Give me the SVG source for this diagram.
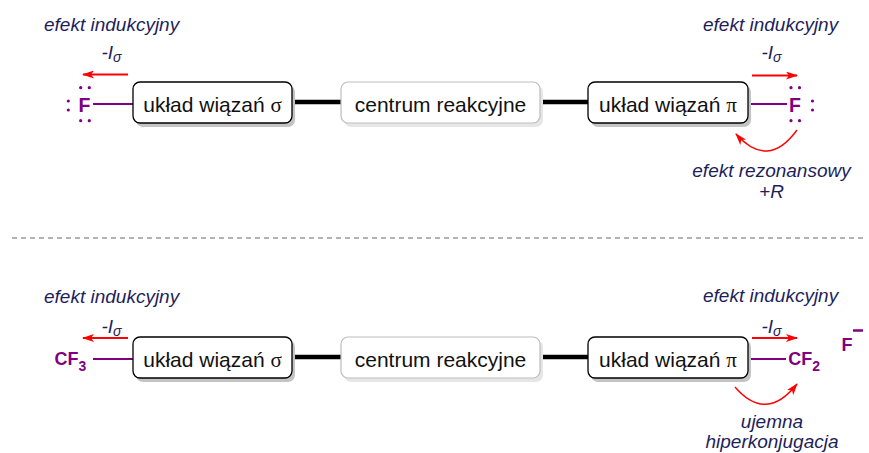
<svg xmlns="http://www.w3.org/2000/svg" width="869" height="453" viewBox="0 0 869 453">
<defs>
<marker id="ah" viewBox="0 0 12 8" refX="11" refY="4" markerWidth="12" markerHeight="8" markerUnits="userSpaceOnUse" orient="auto">
<path d="M0,0 L12,4 L0,8 L3,4 Z" fill="#ff0000"/>
</marker>
<style>
.box{fill:#ffffff;stroke:#000000;stroke-width:1.3}
.cbox{fill:#ffffff;stroke:#bdbdbd;stroke-width:1.2}
.sh{fill:#c4c4c4}
.csh{fill:#e6e6e6}
.bt{font-family:"Liberation Sans",Arial,sans-serif;font-size:21px;fill:#111111;text-anchor:middle}
.gr{font-family:"Liberation Serif","DejaVu Serif",serif;font-size:21px}
.lab{font-family:"Liberation Sans",Arial,sans-serif;font-size:19px;font-style:italic;fill:#1e1e5a}
.sub{font-size:14px}
.chem{font-family:"Liberation Sans",Arial,sans-serif;font-size:18px;font-weight:bold;fill:#800080}
.bond{stroke:#000000;stroke-width:4.5}
.pb{stroke:#800080;stroke-width:2}
.ra{stroke:#ff0000;stroke-width:2;fill:none;marker-end:url(#ah)}
.ca{stroke:#ff0000;stroke-width:1.4;fill:none;marker-end:url(#ah)}
.dot{fill:#800080}
</style>
</defs>
<line x1="12" y1="238" x2="866" y2="238" stroke="#9a9a9a" stroke-width="1.3" stroke-dasharray="5,4"/>
<g id="connectors">
<line class="bond" x1="292" y1="102" x2="341" y2="102"/>
<line class="bond" x1="540" y1="102" x2="588" y2="102"/>
<line class="bond" x1="292" y1="357" x2="341" y2="357"/>
<line class="bond" x1="540" y1="357" x2="588" y2="357"/>
<line class="pb" x1="93" y1="104" x2="133" y2="104"/>
<line class="pb" x1="748" y1="104" x2="787" y2="104"/>
<line class="pb" x1="93" y1="359" x2="133" y2="359"/>
<line class="pb" x1="748" y1="359" x2="786" y2="359"/>
<line class="ra" x1="128" y1="74.5" x2="83" y2="74.5"/>
<line class="ra" x1="752" y1="75.5" x2="797" y2="75.5"/>
<line class="ra" x1="128" y1="338" x2="83" y2="338"/>
<line class="ra" x1="752" y1="338" x2="797" y2="338"/>
<path class="ca" d="M797,130 Q768,170 736,134"/>
<path class="ca" d="M735,387 Q766,423 797,384"/>
</g>
<g id="top-sigma">
<rect class="sh" x="136" y="85" width="159" height="42" rx="7"/>
<rect class="box" x="133" y="82" width="159" height="41" rx="7"/>
<text class="bt" x="212.5" y="112">układ wiązań <tspan class="gr">σ</tspan></text>
</g>
<g id="top-center">
<rect class="csh" x="344" y="85" width="199" height="42" rx="7"/>
<rect class="cbox" x="341" y="82" width="199" height="41" rx="7"/>
<text class="bt" x="440.5" y="112">centrum reakcyjne</text>
</g>
<g id="top-pi">
<rect class="sh" x="591" y="85" width="160" height="42" rx="7"/>
<rect class="box" x="588" y="82" width="160" height="41" rx="7"/>
<text class="bt" x="668" y="112">układ wiązań <tspan class="gr">π</tspan></text>
</g>
<g id="bottom-sigma">
<rect class="sh" x="136" y="340" width="159" height="42" rx="7"/>
<rect class="box" x="133" y="337" width="159" height="41" rx="7"/>
<text class="bt" x="212.5" y="367">układ wiązań <tspan class="gr">σ</tspan></text>
</g>
<g id="bottom-center">
<rect class="csh" x="344" y="340" width="199" height="42" rx="7"/>
<rect class="cbox" x="341" y="337" width="199" height="41" rx="7"/>
<text class="bt" x="440.5" y="367">centrum reakcyjne</text>
</g>
<g id="bottom-pi">
<rect class="sh" x="591" y="340" width="160" height="42" rx="7"/>
<rect class="box" x="588" y="337" width="160" height="41" rx="7"/>
<text class="bt" x="668" y="367">układ wiązań <tspan class="gr">π</tspan></text>
</g>
<g id="F-left">
<text class="chem" x="78.5" y="111.7" style="font-size:19.5px">F</text>
<circle class="dot" cx="80.7" cy="87.7" r="1.6"/>
<circle class="dot" cx="89.3" cy="87.7" r="1.6"/>
<circle class="dot" cx="80.7" cy="120.7" r="1.6"/>
<circle class="dot" cx="89.3" cy="120.7" r="1.6"/>
<circle class="dot" cx="68.3" cy="101" r="1.6"/>
<circle class="dot" cx="68.3" cy="110" r="1.6"/>
</g>
<g id="F-right">
<text class="chem" x="789" y="111.7" style="font-size:19.5px">F</text>
<circle class="dot" cx="791" cy="87.7" r="1.6"/>
<circle class="dot" cx="799.5" cy="87.7" r="1.6"/>
<circle class="dot" cx="791" cy="120.7" r="1.6"/>
<circle class="dot" cx="799.5" cy="120.7" r="1.6"/>
<circle class="dot" cx="812.5" cy="101" r="1.6"/>
<circle class="dot" cx="812.5" cy="110" r="1.6"/>
</g>
<g id="CF3">
<text class="chem" x="54.5" y="365">CF<tspan class="sub" dy="5.7">3</tspan></text>
</g>
<g id="CF2">
<text class="chem" x="788.3" y="365">CF<tspan class="sub" dy="6">2</tspan></text>
</g>
<g id="F-anion">
<text class="chem" x="841.5" y="350.7">F</text>
<line x1="853" y1="330.5" x2="863" y2="330.5" stroke="#800080" stroke-width="2.5"/>
</g>
<g id="labels">
<text class="lab" x="44" y="31">efekt indukcyjny</text>
<text class="lab" x="101.5" y="58.5">-I<tspan class="sub" dy="3.2">σ</tspan></text>
<text class="lab" x="703" y="31">efekt indukcyjny</text>
<text class="lab" x="761.5" y="58.5">-I<tspan class="sub" dy="3.2">σ</tspan></text>
<text class="lab" x="771.5" y="177" text-anchor="middle">efekt rezonansowy</text>
<text class="lab" x="771.5" y="198" text-anchor="middle">+R</text>
<text class="lab" x="44" y="303">efekt indukcyjny</text>
<text class="lab" x="101.5" y="332.5">-I<tspan class="sub" dy="3.2">σ</tspan></text>
<text class="lab" x="703" y="302">efekt indukcyjny</text>
<text class="lab" x="761.5" y="332.5">-I<tspan class="sub" dy="3.2">σ</tspan></text>
<text class="lab" x="772" y="428" text-anchor="middle">ujemna</text>
<text class="lab" x="772" y="448" text-anchor="middle">hiperkonjugacja</text>
</g>
</svg>
